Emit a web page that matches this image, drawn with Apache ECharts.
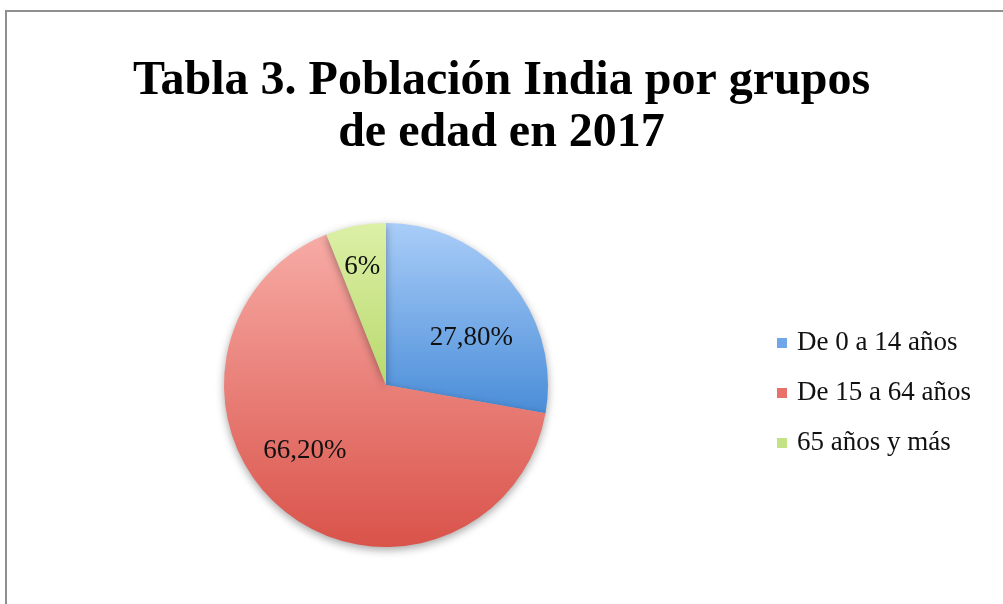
<!DOCTYPE html>
<html>
<head>
<meta charset="utf-8">
<script src="https://cdn.jsdelivr.net/npm/echarts@6/dist/echarts.min.js"></script>
<style>
html,body{margin:0;padding:0;background:#fff;}
#frame{position:absolute;left:5px;top:10px;width:1010px;height:610px;border:2px solid #8f8f8f;box-sizing:border-box;}
#c{position:absolute;left:0;top:0;width:1003px;height:604px;}
</style>
</head>
<body>
<div id="frame"></div>
<div id="c"></div>
<script>
const titleText = 'Tabla 3. Población India por grupos\nde edad en 2017';
const categories = ['De 0 a 14 años', 'De 15 a 64 años', '65 años y más'];
const values = [27.8, 66.2, 6];
const labels = ['27,80%', '66,20%', '6%'];
const colorStops = [
  ['#a9cdf8', '#4a8dd8'],
  ['#f7aba5', '#d9534a'],
  ['#dcf0a6', '#b9d96e']
];
const legendColors = ['#6fa7e8', '#e8716a', '#c4e386'];
const labelOffsets = [[21, 7], [-28, 1], [-8, -36]];

const chart = echarts.init(document.getElementById('c'));
const serif = '"Liberation Serif", "Times New Roman", serif';
chart.setOption({
  backgroundColor: 'transparent',
  title: {
    text: titleText,
    left: 'center',
    top: 51,
    textStyle: {fontFamily: serif, fontWeight: 'bold', fontSize: 48, lineHeight: 52, color: '#000'}
  },
  legend: {
    orient: 'vertical',
    left: 772,
    top: 324,
    itemWidth: 10,
    itemHeight: 10,
    itemGap: 22,
    icon: 'rect',
    textStyle: {fontFamily: serif, fontSize: 27, lineHeight: 28, color: '#111', padding: [0,0,0,5]},
    data: categories.map((n, i) => ({name: n, itemStyle: {color: legendColors[i]}}))
  },
  series: [{
    type: 'pie',
    center: [386, 385],
    radius: 162,
    startAngle: 90,
    clockwise: true,
    animation: false,
    label: {
      position: 'inside',
      fontFamily: serif,
      fontSize: 27,
      color: '#111',
      formatter: p => labels[p.dataIndex]
    },
    labelLine: {show: false},
    emphasis: {disabled: true},
    data: categories.map((n, i) => ({
      name: n,
      value: values[i],
      label: {offset: labelOffsets[i]},
      itemStyle: {
        color: new echarts.graphic.LinearGradient(0, 0, 0, 1, [
          {offset: 0, color: colorStops[i][0]},
          {offset: 1, color: colorStops[i][1]}
        ]),
        shadowColor: 'rgba(0,0,0,0.35)',
        shadowBlur: 8,
        shadowOffsetY: 3
      }
    }))
  }]
});
</script>
</body>
</html>
